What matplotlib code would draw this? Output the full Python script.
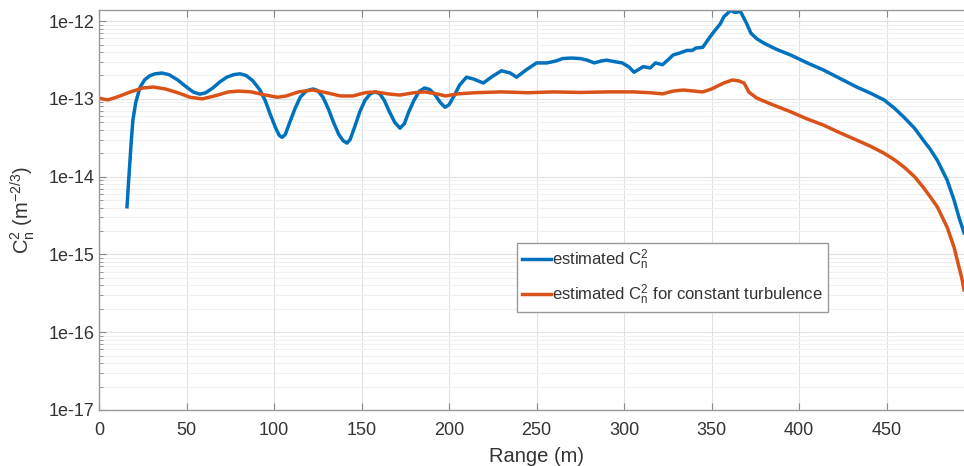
import matplotlib
matplotlib.use('Agg')
import matplotlib.pyplot as plt
from matplotlib.ticker import FixedLocator, FixedFormatter, LogLocator, NullFormatter

plt.rcParams['font.family'] = ['Liberation Sans', 'DejaVu Sans']
plt.rcParams['mathtext.fontset'] = 'custom'
plt.rcParams['mathtext.rm'] = 'Liberation Sans'
plt.rcParams['mathtext.it'] = 'Liberation Sans'

# estimated Cn2 (blue)
range_est = [16, 16.8, 17.7, 18.5, 19.4, 21, 23.4, 26, 29, 32, 36, 40, 45, 50, 54, 57.7,
             61, 65, 69, 73, 77, 80.6, 84, 88, 92, 95, 98, 101, 103, 104.6, 106.5, 109,
             112, 115, 118.5, 122.3, 125, 128, 131, 134, 137, 139.5, 141.7, 143.5, 146,
             149, 152, 155, 157.7, 160.5, 163, 166, 169, 172, 174.5, 177, 180, 183, 186,
             189, 192, 195, 197.7, 200, 203, 206, 210, 214, 219.6, 225, 230, 235, 238.6,
             244, 250, 256, 261, 265, 270, 275, 279, 283, 287, 290, 295, 299, 303,
             305.7, 311, 315, 318, 322, 325, 328, 332, 336, 339, 341, 345, 349, 352,
             355, 357, 361, 363, 364.5, 366, 367, 370, 372.5, 376, 380, 387, 395.4,
             404, 414, 423, 433, 441, 448.6, 454.5, 460, 466, 471, 475, 479, 484.6,
             488.6, 491.4, 494.3]
cn2_est = [4.1e-15, 8e-15, 1.6e-14, 3e-14, 5.4e-14, 9e-14, 1.4e-13, 1.75e-13, 1.98e-13,
           2.1e-13, 2.15e-13, 2.05e-13, 1.75e-13, 1.42e-13, 1.22e-13, 1.15e-13,
           1.2e-13, 1.38e-13, 1.65e-13, 1.9e-13, 2.05e-13, 2.1e-13, 2.0e-13, 1.7e-13,
           1.3e-13, 9.5e-14, 6.2e-14, 4.2e-14, 3.4e-14, 3.2e-14, 3.5e-14, 5.0e-14,
           7.5e-14, 1.05e-13, 1.27e-13, 1.34e-13, 1.28e-13, 1.05e-13, 7.5e-14, 5.0e-14,
           3.5e-14, 2.9e-14, 2.7e-14, 3.0e-14, 4.3e-14, 6.8e-14, 9.6e-14, 1.16e-13,
           1.23e-13, 1.16e-13, 9.6e-14, 6.8e-14, 5.0e-14, 4.2e-14, 4.8e-14, 6.8e-14,
           9.6e-14, 1.25e-13, 1.38e-13, 1.32e-13, 1.13e-13, 9.0e-14, 7.8e-14, 8.4e-14,
           1.1e-13, 1.5e-13, 1.9e-13, 1.8e-13, 1.6e-13, 1.96e-13, 2.3e-13, 2.15e-13,
           1.9e-13, 2.35e-13, 2.9e-13, 2.9e-13, 3.07e-13, 3.3e-13, 3.35e-13, 3.3e-13,
           3.15e-13, 2.9e-13, 3.07e-13, 3.15e-13, 3.0e-13, 2.9e-13, 2.56e-13, 2.2e-13,
           2.6e-13, 2.5e-13, 2.9e-13, 2.75e-13, 3.15e-13, 3.66e-13, 3.9e-13, 4.2e-13,
           4.2e-13, 4.5e-13, 4.6e-13, 6.2e-13, 7.6e-13, 9.2e-13, 1.13e-12, 1.38e-12,
           1.3e-12, 1.3e-12, 1.35e-12, 1.27e-12, 9.4e-13, 7.0e-13, 5.9e-13, 5.2e-13,
           4.35e-13, 3.65e-13, 2.95e-13, 2.35e-13, 1.85e-13, 1.42e-13, 1.18e-13,
           9.7e-14, 7.6e-14, 5.8e-14, 4.2e-14, 2.95e-14, 2.25e-14, 1.63e-14, 9.1e-15,
           5.0e-15, 3.0e-15, 1.9e-15]

# estimated Cn2 for constant turbulence (orange)
range_const = [0, 5, 10, 18, 25, 31, 38, 45, 52, 59, 66, 74, 80, 87, 95, 102, 107,
               114, 122, 130, 138, 145, 152, 158, 165, 172, 180, 186, 193, 198, 205,
               215, 230, 245, 260, 275, 290, 305, 315, 322, 328, 334, 340, 345, 350,
               357, 362, 365.7, 368.6, 371.4, 376, 385, 395.4, 404, 414, 423, 433, 441,
               448.6, 454.5, 460, 466, 471, 475, 479, 484.6, 488.6, 491.4, 493, 494.3]
cn2_const = [1.02e-13, 9.7e-14, 1.05e-13, 1.23e-13, 1.38e-13, 1.42e-13, 1.34e-13,
             1.2e-13, 1.05e-13, 1.0e-13, 1.09e-13, 1.23e-13, 1.26e-13, 1.23e-13,
             1.12e-13, 1.05e-13, 1.09e-13, 1.23e-13, 1.3e-13, 1.2e-13, 1.09e-13,
             1.09e-13, 1.2e-13, 1.23e-13, 1.16e-13, 1.12e-13, 1.2e-13, 1.23e-13,
             1.16e-13, 1.09e-13, 1.16e-13, 1.2e-13, 1.23e-13, 1.2e-13, 1.23e-13,
             1.21e-13, 1.23e-13, 1.23e-13, 1.2e-13, 1.16e-13, 1.26e-13, 1.3e-13,
             1.26e-13, 1.23e-13, 1.34e-13, 1.6e-13, 1.75e-13, 1.7e-13, 1.6e-13,
             1.22e-13, 1.02e-13, 8.4e-14, 6.8e-14, 5.6e-14, 4.6e-14, 3.7e-14, 2.95e-14,
             2.45e-14, 2.0e-14, 1.65e-14, 1.33e-14, 1.0e-14, 7.3e-15, 5.5e-15, 4.1e-15,
             2.25e-15, 1.24e-15, 6.9e-16, 5.0e-16, 3.5e-16]

ytick_vals = [1e-17, 1e-16, 1e-15, 1e-14, 1e-13, 1e-12]
ytick_labels = ['1e-17', '1e-16', '1e-15', '1e-14', '1e-13', '1e-12']
xtick_vals = [0, 50, 100, 150, 200, 250, 300, 350, 400, 450]

fig = plt.figure(figsize=(9.64, 4.66), dpi=100)
# axes runs a little past the right edge of the picture (cropped like the original)
ax = fig.add_axes([99/964, 56/466, 875/964, 400.5/466])

ax.plot(range_est, cn2_est, color='#0072BD', lw=2.5, solid_joinstyle='round',
        label=r'estimated C$_\mathrm{n}^\mathrm{2}$')
ax.plot(range_const, cn2_const, color='#D95319', lw=2.5, solid_joinstyle='round',
        label=r'estimated C$_\mathrm{n}^\mathrm{2}$ for constant turbulence')

ax.set_yscale('log')
ax.set_xlim(0, 500)
ax.set_ylim(1e-17, 1.41e-12)
ax.set_xticks(xtick_vals)
ax.yaxis.set_major_locator(FixedLocator(ytick_vals))
ax.yaxis.set_major_formatter(FixedFormatter(ytick_labels))
ax.yaxis.set_minor_locator(LogLocator(base=10, subs=range(2, 10), numticks=20))
ax.yaxis.set_minor_formatter(NullFormatter())

ax.grid(True, which='major', color='#e2e2e2', lw=0.8)
ax.grid(True, which='minor', axis='y', color='#f0f0f0', lw=0.8)
ax.set_axisbelow(True)

ax.tick_params(which='both', direction='in', top=True, right=True,
               labelsize=13, labelcolor='#333333', color='#888888')
ax.tick_params(which='major', length=5)
ax.tick_params(which='minor', length=3)
ax.tick_params(axis='x', pad=8.5)
for s in ax.spines.values():
    s.set_color('#999999')
    s.set_linewidth(1)

ax.set_xlabel('Range (m)', fontsize=14.5, color='#333333', labelpad=6)
ax.set_ylabel(r'C$_\mathrm{n}^\mathrm{2}$ (m$^{\mathrm{-2/3}}$)', fontsize=14.5,
              color='#333333', labelpad=8)

leg = ax.legend(loc='upper left', bbox_to_anchor=(0.478, 0.4175), fontsize=12,
                fancybox=False, edgecolor='#999999', framealpha=1,
                handlelength=1.7, handletextpad=0.1, borderpad=0.3, labelspacing=0.65,
                borderaxespad=0)
leg.get_frame().set_linewidth(1)
for t in leg.get_texts():
    t.set_color('#333333')

fig.savefig('out.png', dpi=100)
plt.close(fig)
